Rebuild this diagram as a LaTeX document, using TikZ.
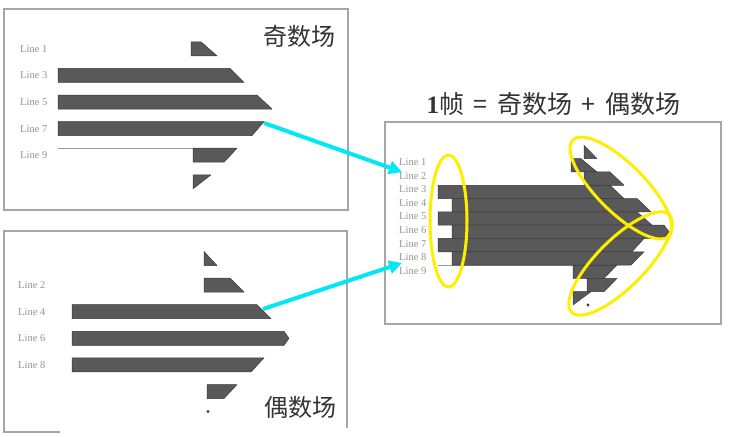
\documentclass[tikz,border=0pt]{standalone}
\usepackage{fontspec}
\setmainfont{Liberation Serif}
\newfontfamily\cjk{Noto Sans CJK SC}
\usepackage{tikz}
\usetikzlibrary{arrows.meta,positioning}
\definecolor{linkcyan}{RGB}{0,232,245}
\definecolor{ringyellow}{RGB}{255,238,0}

\begin{document}
\begin{tikzpicture}[x=1pt,y=-1pt]
	\tikzstyle{Frame}	= [draw=gray!70, line width=1.2pt]
	\tikzstyle{Bar}		= [fill=black!65, draw=black!78, line width=0.5pt, line join=round]
	\tikzstyle{Thin}	= [draw=gray!80, line width=1pt]
	\tikzstyle{Tag}		= [text=gray!85, font=\fontsize{10.5}{12}\selectfont, inner sep=0pt, anchor=west]
	\tikzstyle{Title}	= [text=black!80, font=\cjk\fontsize{24}{26}\selectfont, inner sep=0pt]
	\tikzstyle{Link}	= [-{Triangle[length=13pt,width=13pt]}, line width=4pt, linkcyan]
	\tikzstyle{Ring}	= [draw=ringyellow, line width=3pt]

	\def\oddrows{1/191/201/209/217, 3/58/230/237/244, 5/58/257/264.5/272, 7/58/264/258/252, 9/193/237/230.5/224, 11/193/211/202/193}
	\def\evenrows{0/204/204/210.5/217, 2/204/230/237/244, 4/72/257/264/271, 6/72/284/289/284, 8/72/264/257.5/251, 10/207/237/230.5/224}

	\useasboundingbox (0,0) rectangle (732,437);
	\draw[Frame] (4,9) rectangle (348,210);
	\draw[Frame] (60,432) -- (4,432) -- (4,231) -- (347,231) -- (347,428);
	\draw[Frame] (385,122) rectangle (721,324);

	\begin{scope}[shift={(0,35.5)}]
		\draw[Thin] (58,9*13.3-7) -- (193,9*13.3-7);
		\foreach \r/\a/\b/\c/\d in \oddrows
			\draw[Bar] (\a,\r*13.3-7) -- (\b,\r*13.3-7) -- (\c,\r*13.3) -- (\d,\r*13.3+7) -- (\a,\r*13.3+7) -- cycle;
	\end{scope}
	\begin{scope}[shift={(0,258.5)}]
		\foreach \r/\a/\b/\c/\d in \evenrows
			\draw[Bar] (\a,\r*13.3-7) -- (\b,\r*13.3-7) -- (\c,\r*13.3) -- (\d,\r*13.3+7) -- (\a,\r*13.3+7) -- cycle;
		\fill[black!75] (208,11.5*13.3) circle (1.6);
	\end{scope}
	\begin{scope}[shift={(380,152)}]
		\draw[Thin] (58,9*13.3-6.65) -- (193,9*13.3-6.65);
		\foreach \r/\a/\b/\c/\d in \oddrows
			\draw[Bar] (\a,\r*13.3-6.65) -- (\b,\r*13.3-6.65) -- (\c,\r*13.3) -- (\d,\r*13.3+6.65) -- (\a,\r*13.3+6.65) -- cycle;
		\foreach \r/\a/\b/\c/\d in \evenrows
			\draw[Bar] (\a,\r*13.3-6.65) -- (\b,\r*13.3-6.65) -- (\c,\r*13.3) -- (\d,\r*13.3+6.65) -- (\a,\r*13.3+6.65) -- cycle;
		\fill[black!75] (208,11.5*13.3) circle (1.6);
	\end{scope}

	\foreach \k in {1,3,5,7,9}
		\node[Tag] (o\k) at (20,35.5+\k*13.3) {Line \k};
	\foreach \k in {2,4,6,8}
		\node[Tag] (e\k) at (18,258.5+\k*13.3) {Line \k};
	\foreach \k in {1,...,9}
		\node[Tag] (c\k) at (399,148.4+\k*13.6) {Line \k};

	\node[Title] (oddtitle) at (299,36) {奇数场};
	\node[Title] (eventitle) at (300,407) {偶数场};
	\node[Title, font=\cjk\fontsize{25}{27}\selectfont] (frametitle) at (553.5,104)
		{{\rmfamily\bfseries 1}帧\hspace{4pt} = \hspace{4pt}奇数场\hspace{4pt} + \hspace{4pt}偶数场};

	\draw[Ring] (448.5,221) ellipse [x radius=18.5, y radius=66];
	\draw[Ring, rotate around={-45:(621,188)}] (621,188) ellipse [x radius=68, y radius=24];
	\draw[Ring, rotate around={45:(620.5,263.5)}] (620.5,263.5) ellipse [x radius=69, y radius=24];

	\coordinate (oddtip) at (264,123);
	\coordinate (eventip) at (263,309);
	\coordinate (cin2) at (402,172);
	\coordinate (cin8) at (402,263);
	\draw[Link] (oddtip) -- (cin2);
	\draw[Link] (eventip) -- (cin8);
\end{tikzpicture}
\end{document}
